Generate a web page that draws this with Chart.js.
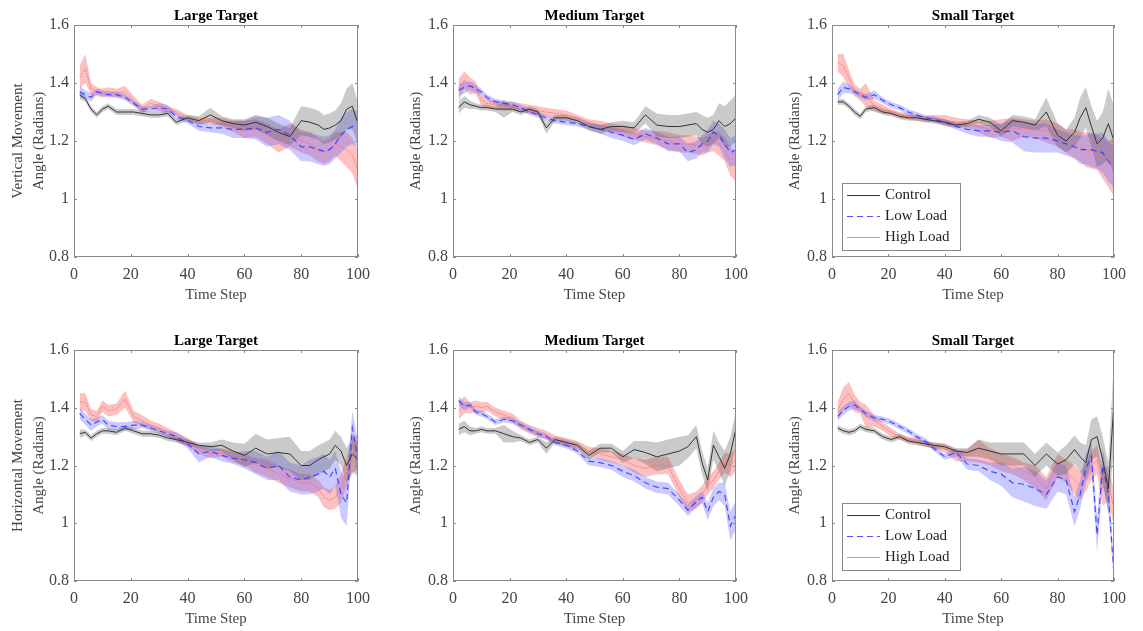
<!DOCTYPE html>
<html>
<head>
<meta charset="utf-8">
<script src="https://cdn.jsdelivr.net/npm/chart.js@4.4.1/dist/chart.umd.min.js"></script>
<style>
  body { margin: 0; background: #fff; }
  #wrap { position: relative; width: 1143px; height: 631px; overflow: hidden; }
  #wrap canvas { position: absolute; }
</style>
</head>
<body>
<div id="wrap"></div>
<script>
// time steps the curves are sampled at
const steps = [2, 4, 6, 8, 10, 12, 15, 18, 21, 24, 27, 30, 33, 36, 40, 44, 48, 52, 56, 60, 64, 68, 72, 76, 80, 83, 86, 88, 90, 92, 94, 96, 98, 100];

const groups = ['Control', 'Low Load', 'High Load'];
const targets = ['Large Target', 'Medium Target', 'Small Target'];
const yTicks = [0.8, 1, 1.2, 1.4, 1.6];
const xTicks = [0, 20, 40, 60, 80, 100];

// vertical movement, large target
const vertLargeControl = [1.36, 1.345, 1.31, 1.29, 1.31, 1.32, 1.30, 1.30, 1.30, 1.295, 1.29, 1.29, 1.295, 1.265, 1.28, 1.27, 1.29, 1.27, 1.26, 1.255, 1.265, 1.25, 1.23, 1.215, 1.27, 1.265, 1.255, 1.24, 1.245, 1.255, 1.27, 1.31, 1.32, 1.26];
const vertLargeControlErr = [0.015, 0.01, 0.01, 0.01, 0.01, 0.01, 0.01, 0.01, 0.01, 0.01, 0.01, 0.01, 0.01, 0.01, 0.01, 0.015, 0.025, 0.015, 0.015, 0.02, 0.025, 0.03, 0.03, 0.03, 0.05, 0.05, 0.05, 0.05, 0.05, 0.05, 0.06, 0.07, 0.08, 0.07];
const vertLargeLow = [1.37, 1.36, 1.35, 1.37, 1.365, 1.36, 1.36, 1.35, 1.33, 1.31, 1.31, 1.315, 1.31, 1.285, 1.27, 1.25, 1.245, 1.245, 1.24, 1.24, 1.245, 1.23, 1.24, 1.22, 1.18, 1.18, 1.17, 1.165, 1.17, 1.19, 1.22, 1.24, 1.25, 1.24];
const vertLargeLowErr = [0.02, 0.015, 0.015, 0.01, 0.01, 0.01, 0.01, 0.01, 0.01, 0.01, 0.01, 0.015, 0.015, 0.01, 0.01, 0.015, 0.015, 0.02, 0.03, 0.03, 0.04, 0.05, 0.05, 0.05, 0.05, 0.05, 0.05, 0.05, 0.05, 0.05, 0.06, 0.06, 0.06, 0.06];
const vertLargeHigh = [1.42, 1.45, 1.38, 1.37, 1.365, 1.37, 1.365, 1.37, 1.34, 1.31, 1.33, 1.32, 1.31, 1.30, 1.28, 1.27, 1.27, 1.265, 1.25, 1.24, 1.245, 1.225, 1.20, 1.22, 1.20, 1.19, 1.17, 1.16, 1.17, 1.19, 1.18, 1.17, 1.15, 1.10];
const vertLargeHighErr = [0.04, 0.05, 0.02, 0.015, 0.015, 0.015, 0.015, 0.02, 0.015, 0.015, 0.015, 0.015, 0.01, 0.01, 0.01, 0.01, 0.01, 0.015, 0.02, 0.03, 0.03, 0.035, 0.04, 0.04, 0.04, 0.04, 0.04, 0.04, 0.04, 0.04, 0.05, 0.06, 0.06, 0.07];

// vertical movement, medium target
const vertMediumControl = [1.315, 1.335, 1.325, 1.32, 1.315, 1.315, 1.31, 1.31, 1.31, 1.30, 1.31, 1.30, 1.245, 1.28, 1.28, 1.27, 1.25, 1.24, 1.25, 1.25, 1.245, 1.29, 1.255, 1.25, 1.25, 1.255, 1.26, 1.24, 1.23, 1.24, 1.27, 1.25, 1.26, 1.28];
const vertMediumControlErr = [0.02, 0.02, 0.015, 0.01, 0.01, 0.01, 0.01, 0.03, 0.01, 0.01, 0.01, 0.01, 0.02, 0.01, 0.01, 0.01, 0.015, 0.015, 0.015, 0.02, 0.02, 0.03, 0.04, 0.04, 0.04, 0.04, 0.04, 0.05, 0.05, 0.05, 0.06, 0.07, 0.08, 0.08];
const vertMediumLow = [1.375, 1.385, 1.39, 1.38, 1.37, 1.35, 1.335, 1.33, 1.325, 1.315, 1.30, 1.29, 1.28, 1.27, 1.265, 1.26, 1.25, 1.24, 1.23, 1.22, 1.205, 1.225, 1.21, 1.19, 1.19, 1.16, 1.17, 1.19, 1.20, 1.23, 1.22, 1.19, 1.16, 1.17];
const vertMediumLowErr = [0.02, 0.02, 0.015, 0.015, 0.01, 0.01, 0.01, 0.01, 0.01, 0.01, 0.01, 0.01, 0.01, 0.01, 0.01, 0.01, 0.01, 0.015, 0.02, 0.02, 0.02, 0.02, 0.02, 0.025, 0.025, 0.03, 0.03, 0.03, 0.04, 0.04, 0.04, 0.05, 0.05, 0.05];
const vertMediumHigh = [1.375, 1.41, 1.39, 1.385, 1.34, 1.33, 1.325, 1.32, 1.32, 1.315, 1.31, 1.305, 1.30, 1.295, 1.29, 1.28, 1.265, 1.255, 1.245, 1.235, 1.225, 1.215, 1.21, 1.20, 1.19, 1.19, 1.185, 1.18, 1.19, 1.20, 1.19, 1.17, 1.13, 1.11];
const vertMediumHighErr = [0.04, 0.03, 0.03, 0.02, 0.02, 0.015, 0.015, 0.015, 0.015, 0.015, 0.015, 0.015, 0.015, 0.015, 0.015, 0.01, 0.01, 0.015, 0.015, 0.02, 0.02, 0.02, 0.025, 0.03, 0.03, 0.03, 0.03, 0.03, 0.03, 0.035, 0.04, 0.04, 0.05, 0.05];

// vertical movement, small target
const vertSmallControl = [1.335, 1.335, 1.32, 1.30, 1.285, 1.31, 1.315, 1.30, 1.295, 1.285, 1.28, 1.28, 1.275, 1.27, 1.265, 1.255, 1.26, 1.275, 1.265, 1.235, 1.27, 1.265, 1.255, 1.30, 1.22, 1.20, 1.23, 1.28, 1.315, 1.25, 1.19, 1.21, 1.26, 1.20];
const vertSmallControlErr = [0.01, 0.01, 0.01, 0.01, 0.01, 0.01, 0.01, 0.01, 0.01, 0.01, 0.01, 0.01, 0.01, 0.01, 0.01, 0.01, 0.01, 0.015, 0.015, 0.02, 0.02, 0.02, 0.02, 0.05, 0.04, 0.04, 0.05, 0.07, 0.07, 0.07, 0.08, 0.09, 0.12, 0.12];
const vertSmallLow = [1.36, 1.385, 1.38, 1.37, 1.36, 1.35, 1.36, 1.34, 1.325, 1.315, 1.30, 1.29, 1.28, 1.275, 1.265, 1.25, 1.24, 1.235, 1.235, 1.23, 1.235, 1.215, 1.21, 1.21, 1.20, 1.19, 1.18, 1.17, 1.17, 1.17, 1.165, 1.16, 1.13, 1.11];
const vertSmallLowErr = [0.02, 0.02, 0.015, 0.01, 0.01, 0.01, 0.015, 0.01, 0.01, 0.01, 0.01, 0.01, 0.01, 0.01, 0.01, 0.01, 0.015, 0.02, 0.02, 0.03, 0.04, 0.05, 0.05, 0.05, 0.04, 0.04, 0.04, 0.05, 0.05, 0.06, 0.06, 0.07, 0.07, 0.07];
const vertSmallHigh = [1.47, 1.46, 1.415, 1.375, 1.36, 1.36, 1.32, 1.31, 1.30, 1.29, 1.285, 1.28, 1.275, 1.28, 1.27, 1.265, 1.26, 1.25, 1.24, 1.245, 1.24, 1.245, 1.24, 1.235, 1.22, 1.20, 1.19, 1.18, 1.17, 1.165, 1.16, 1.14, 1.12, 1.11];
const vertSmallHighErr = [0.03, 0.04, 0.03, 0.02, 0.02, 0.04, 0.02, 0.015, 0.01, 0.01, 0.01, 0.01, 0.01, 0.01, 0.02, 0.015, 0.015, 0.02, 0.03, 0.03, 0.04, 0.03, 0.03, 0.04, 0.04, 0.04, 0.05, 0.05, 0.06, 0.06, 0.06, 0.07, 0.08, 0.1];

// horizontal movement, large target
const horzLargeControl = [1.31, 1.315, 1.295, 1.31, 1.32, 1.32, 1.315, 1.33, 1.32, 1.31, 1.31, 1.305, 1.295, 1.29, 1.28, 1.27, 1.265, 1.27, 1.25, 1.235, 1.26, 1.24, 1.245, 1.24, 1.20, 1.20, 1.22, 1.23, 1.24, 1.27, 1.25, 1.20, 1.24, 1.22];
const horzLargeControlErr = [0.015, 0.01, 0.01, 0.01, 0.01, 0.01, 0.01, 0.01, 0.01, 0.01, 0.01, 0.01, 0.01, 0.01, 0.01, 0.01, 0.015, 0.02, 0.03, 0.04, 0.05, 0.05, 0.05, 0.06, 0.05, 0.05, 0.05, 0.05, 0.05, 0.05, 0.05, 0.06, 0.06, 0.06];
const horzLargeLow = [1.38, 1.36, 1.34, 1.35, 1.36, 1.34, 1.335, 1.335, 1.34, 1.34, 1.33, 1.32, 1.31, 1.30, 1.275, 1.24, 1.25, 1.235, 1.225, 1.22, 1.21, 1.19, 1.20, 1.16, 1.15, 1.16, 1.17, 1.18, 1.16, 1.19, 1.10, 1.07, 1.33, 1.22];
const horzLargeLowErr = [0.02, 0.02, 0.02, 0.015, 0.015, 0.015, 0.015, 0.015, 0.015, 0.01, 0.01, 0.01, 0.01, 0.015, 0.015, 0.03, 0.02, 0.02, 0.02, 0.03, 0.04, 0.04, 0.05, 0.05, 0.05, 0.06, 0.06, 0.06, 0.06, 0.06, 0.08, 0.08, 0.06, 0.06];
const horzLargeHigh = [1.42, 1.42, 1.375, 1.37, 1.405, 1.39, 1.395, 1.43, 1.37, 1.355, 1.34, 1.33, 1.315, 1.30, 1.28, 1.255, 1.24, 1.245, 1.23, 1.22, 1.20, 1.19, 1.17, 1.155, 1.14, 1.14, 1.12, 1.09, 1.08, 1.09, 1.12, 1.18, 1.23, 1.25];
const horzLargeHighErr = [0.03, 0.03, 0.02, 0.02, 0.02, 0.02, 0.02, 0.03, 0.02, 0.02, 0.015, 0.015, 0.015, 0.015, 0.015, 0.015, 0.015, 0.015, 0.02, 0.02, 0.025, 0.03, 0.03, 0.03, 0.03, 0.03, 0.03, 0.035, 0.035, 0.04, 0.05, 0.05, 0.06, 0.06];

// horizontal movement, medium target
const horzMediumControl = [1.325, 1.335, 1.32, 1.32, 1.325, 1.32, 1.32, 1.31, 1.30, 1.295, 1.28, 1.29, 1.26, 1.29, 1.28, 1.27, 1.235, 1.26, 1.26, 1.23, 1.255, 1.245, 1.23, 1.24, 1.25, 1.265, 1.30, 1.21, 1.15, 1.27, 1.23, 1.19, 1.24, 1.33];
const horzMediumControlErr = [0.02, 0.02, 0.015, 0.01, 0.01, 0.01, 0.01, 0.03, 0.02, 0.01, 0.01, 0.01, 0.02, 0.01, 0.01, 0.01, 0.015, 0.015, 0.015, 0.02, 0.03, 0.04, 0.05, 0.05, 0.05, 0.04, 0.04, 0.04, 0.04, 0.05, 0.05, 0.06, 0.06, 0.06];
const horzMediumLow = [1.425, 1.405, 1.41, 1.385, 1.38, 1.37, 1.35, 1.36, 1.355, 1.34, 1.325, 1.31, 1.30, 1.28, 1.27, 1.25, 1.215, 1.21, 1.20, 1.18, 1.165, 1.14, 1.125, 1.12, 1.08, 1.045, 1.075, 1.09, 1.04, 1.09, 1.11, 1.10, 0.99, 1.03];
const horzMediumLowErr = [0.015, 0.015, 0.01, 0.01, 0.01, 0.01, 0.01, 0.01, 0.01, 0.01, 0.01, 0.01, 0.01, 0.01, 0.01, 0.01, 0.015, 0.015, 0.015, 0.02, 0.02, 0.02, 0.02, 0.02, 0.02, 0.02, 0.02, 0.02, 0.03, 0.03, 0.03, 0.04, 0.05, 0.05];
const horzMediumHigh = [1.39, 1.41, 1.40, 1.405, 1.40, 1.405, 1.385, 1.375, 1.365, 1.34, 1.325, 1.315, 1.305, 1.29, 1.28, 1.27, 1.25, 1.24, 1.23, 1.22, 1.20, 1.19, 1.20, 1.20, 1.12, 1.07, 1.08, 1.10, 1.13, 1.15, 1.18, 1.21, 1.20, 1.22];
const horzMediumHighErr = [0.03, 0.03, 0.02, 0.02, 0.02, 0.015, 0.015, 0.015, 0.015, 0.015, 0.015, 0.015, 0.015, 0.015, 0.015, 0.015, 0.015, 0.02, 0.02, 0.02, 0.025, 0.03, 0.03, 0.03, 0.03, 0.03, 0.03, 0.03, 0.03, 0.03, 0.03, 0.035, 0.04, 0.04];

// horizontal movement, small target
const horzSmallControl = [1.33, 1.32, 1.315, 1.32, 1.335, 1.325, 1.32, 1.30, 1.29, 1.30, 1.285, 1.28, 1.275, 1.27, 1.265, 1.25, 1.245, 1.26, 1.25, 1.24, 1.24, 1.24, 1.20, 1.24, 1.205, 1.22, 1.255, 1.23, 1.21, 1.29, 1.30, 1.22, 1.12, 1.42];
const horzSmallControlErr = [0.01, 0.01, 0.01, 0.01, 0.01, 0.01, 0.01, 0.01, 0.01, 0.01, 0.01, 0.01, 0.01, 0.01, 0.01, 0.01, 0.015, 0.03, 0.03, 0.04, 0.04, 0.04, 0.04, 0.04, 0.04, 0.05, 0.05, 0.05, 0.06, 0.07, 0.07, 0.08, 0.09, 0.15];
const horzSmallLow = [1.37, 1.39, 1.405, 1.41, 1.395, 1.38, 1.365, 1.36, 1.35, 1.335, 1.32, 1.30, 1.285, 1.26, 1.23, 1.245, 1.205, 1.20, 1.18, 1.17, 1.14, 1.135, 1.12, 1.10, 1.16, 1.15, 1.04, 1.10, 1.19, 1.23, 0.96, 1.20, 1.10, 0.82];
const horzSmallLowErr = [0.015, 0.015, 0.015, 0.015, 0.01, 0.01, 0.01, 0.01, 0.01, 0.01, 0.01, 0.01, 0.01, 0.01, 0.01, 0.015, 0.02, 0.02, 0.03, 0.04, 0.05, 0.06, 0.06, 0.05, 0.05, 0.05, 0.05, 0.05, 0.05, 0.05, 0.06, 0.06, 0.06, 0.02];
const horzSmallHigh = [1.39, 1.43, 1.45, 1.415, 1.40, 1.37, 1.355, 1.335, 1.315, 1.30, 1.29, 1.285, 1.275, 1.27, 1.26, 1.235, 1.235, 1.25, 1.23, 1.21, 1.20, 1.18, 1.16, 1.12, 1.20, 1.18, 1.15, 1.13, 1.16, 1.20, 1.22, 1.12, 1.14, 1.05];
const horzSmallHighErr = [0.03, 0.04, 0.04, 0.03, 0.02, 0.04, 0.02, 0.015, 0.015, 0.01, 0.01, 0.01, 0.01, 0.01, 0.015, 0.02, 0.02, 0.04, 0.03, 0.03, 0.03, 0.03, 0.04, 0.04, 0.04, 0.04, 0.05, 0.05, 0.05, 0.05, 0.05, 0.06, 0.06, 0.06];

const serif = '"Liberation Serif", "Times New Roman", serif';
const textColor = '#444';
const frameColor = '#8a8a8a';

const styles = [
  { line: '#333333', dash: [], width: 1, band: 'rgba(80,80,80,0.3)' },
  { line: 'rgba(50,50,255,0.85)', dash: [6, 4], width: 1.2, band: 'rgba(90,90,255,0.32)' },
  { line: 'rgba(245,110,110,0.8)', dash: [2, 1], width: 1, band: 'rgba(250,90,90,0.38)' }
];

// plot rectangles per row and column
const rows = [
  { top: 25, height: 232, yTitle: ['Vertical Movement', 'Angle (Radians)'] },
  { top: 350, height: 231, yTitle: ['Horizontal Movement', 'Angle (Radians)'] }
];
const cols = [{ left: 74, width: 288 }, { left: 453, width: 287 }, { left: 832, width: 286 }];

const panelSeries = [
  [[vertLargeControl, vertLargeControlErr], [vertLargeLow, vertLargeLowErr], [vertLargeHigh, vertLargeHighErr]],
  [[vertMediumControl, vertMediumControlErr], [vertMediumLow, vertMediumLowErr], [vertMediumHigh, vertMediumHighErr]],
  [[vertSmallControl, vertSmallControlErr], [vertSmallLow, vertSmallLowErr], [vertSmallHigh, vertSmallHighErr]],
  [[horzLargeControl, horzLargeControlErr], [horzLargeLow, horzLargeLowErr], [horzLargeHigh, horzLargeHighErr]],
  [[horzMediumControl, horzMediumControlErr], [horzMediumLow, horzMediumLowErr], [horzMediumHigh, horzMediumHighErr]],
  [[horzSmallControl, horzSmallControlErr], [horzSmallLow, horzSmallLowErr], [horzSmallHigh, horzSmallHighErr]]
];

// box around the axes with inward tick marks, MATLAB style
const framePlugin = {
  id: 'frame',
  afterDatasetsDraw(chart) {
    const { ctx, chartArea: a, scales } = chart;
    ctx.save();
    ctx.strokeStyle = frameColor;
    ctx.lineWidth = 1;
    ctx.strokeRect(a.left + 0.5, a.top + 0.5, a.right - a.left - 1, a.bottom - a.top - 1);
    ctx.beginPath();
    xTicks.forEach(t => {
      const x = Math.round(scales.x.getPixelForValue(t)) + 0.5;
      ctx.moveTo(x, a.bottom); ctx.lineTo(x, a.bottom - 3);
      ctx.moveTo(x, a.top); ctx.lineTo(x, a.top + 3);
    });
    yTicks.forEach(t => {
      const y = Math.round(scales.y.getPixelForValue(t)) + 0.5;
      ctx.moveTo(a.left, y); ctx.lineTo(a.left + 3, y);
      ctx.moveTo(a.right, y); ctx.lineTo(a.right - 3, y);
    });
    ctx.stroke();
    ctx.restore();
  }
};

// legend box in the lower left corner of the axes
const boxLegend = {
  id: 'boxLegend',
  afterDraw(chart, args, opts) {
    if (!opts.show) return;
    const { ctx, chartArea: a } = chart;
    const w = 118, h = 67;
    const x = Math.round(a.left + 10), y = Math.round(a.bottom - opts.bottomGap - h);
    ctx.save();
    ctx.fillStyle = '#fff';
    ctx.fillRect(x, y, w, h);
    ctx.strokeStyle = frameColor;
    ctx.lineWidth = 1;
    ctx.strokeRect(x + 0.5, y + 0.5, w, h);
    ctx.font = '15px ' + serif;
    ctx.textBaseline = 'middle';
    groups.forEach((g, i) => {
      const yy = y + 12 + i * 21;
      const s = styles[i];
      ctx.strokeStyle = i === 2 ? 'rgba(240,120,120,0.9)' : s.line;
      ctx.lineWidth = s.width;
      ctx.setLineDash(i === 2 ? [] : s.dash);
      ctx.beginPath();
      ctx.moveTo(x + 5, yy + 0.5); ctx.lineTo(x + 38, yy + 0.5);
      ctx.stroke();
      ctx.setLineDash([]);
      ctx.fillStyle = '#222';
      ctx.fillText(g, x + 43, yy);
    });
    ctx.restore();
  }
};

const yAxisWidth = 74, xAxisHeight = 50, titleHeight = 25, rightPad = 16;
const wrap = document.getElementById('wrap');

rows.forEach((row, r) => {
  cols.forEach((col, c) => {
    const series = panelSeries[r * 3 + c];
    const datasets = [];
    series.forEach(([mean, err], i) => {
      const s = styles[i];
      datasets.push({
        label: groups[i] + ' upper',
        data: steps.map((x, k) => ({ x, y: mean[k] + err[k] })),
        borderWidth: 0, pointRadius: 0, backgroundColor: s.band, fill: '+1'
      });
      datasets.push({
        label: groups[i] + ' lower',
        data: steps.map((x, k) => ({ x, y: mean[k] - err[k] })),
        borderWidth: 0, pointRadius: 0, fill: false
      });
    });
    series.forEach(([mean], i) => {
      const s = styles[i];
      datasets.push({
        label: groups[i],
        data: steps.map((x, k) => ({ x, y: mean[k] })),
        borderColor: s.line, borderWidth: s.width, borderDash: s.dash,
        pointRadius: 0, fill: false, order: -1
      });
    });

    const canvas = document.createElement('canvas');
    canvas.width = col.width + yAxisWidth + rightPad;
    canvas.height = row.height + titleHeight + xAxisHeight;
    canvas.style.left = (col.left - yAxisWidth) + 'px';
    canvas.style.top = (row.top - titleHeight) + 'px';
    wrap.appendChild(canvas);

    const yTitle = c === 0 ? row.yTitle : row.yTitle[1];
    new Chart(canvas, {
      type: 'line',
      data: { datasets },
      plugins: [framePlugin, boxLegend],
      options: {
        responsive: false,
        animation: false,
        devicePixelRatio: 1,
        events: [],
        layout: { padding: { left: 0, top: 0, right: rightPad, bottom: 0 } },
        plugins: {
          legend: { display: false },
          tooltip: { enabled: false },
          filler: { drawTime: 'beforeDatasetsDraw' },
          title: {
            display: true, text: targets[c], fullSize: false, color: '#000',
            font: { family: serif, size: 15, weight: 'bold' },
            padding: { top: 7, bottom: 0 }
          },
          boxLegend: { show: c === 2, bottomGap: r === 0 ? 7 : 11 }
        },
        scales: {
          x: {
            type: 'linear', min: 0, max: 100,
            grid: { display: false, drawTicks: false },
            border: { display: false },
            ticks: { stepSize: 20, padding: 8, color: textColor, maxRotation: 0, font: { family: serif, size: 16 } },
            title: { display: true, text: 'Time Step', color: textColor, font: { family: serif, size: 15 }, padding: { top: 0, bottom: 3 } },
            afterFit: s => { s.height = xAxisHeight; }
          },
          y: {
            min: 0.8, max: 1.6,
            grid: { display: false, drawTicks: false },
            border: { display: false },
            ticks: { stepSize: 0.2, padding: 5, color: textColor, font: { family: serif, size: 16 }, callback: v => String(+v.toFixed(1)) },
            title: {
              display: true, text: yTitle, color: textColor,
              font: { family: serif, size: 15, lineHeight: 1.4 },
              padding: { top: c === 0 ? 7.5 : 26.5 }
            },
            afterFit: s => { s.width = yAxisWidth; }
          }
        }
      }
    });
  });
});
</script>
</body>
</html>
